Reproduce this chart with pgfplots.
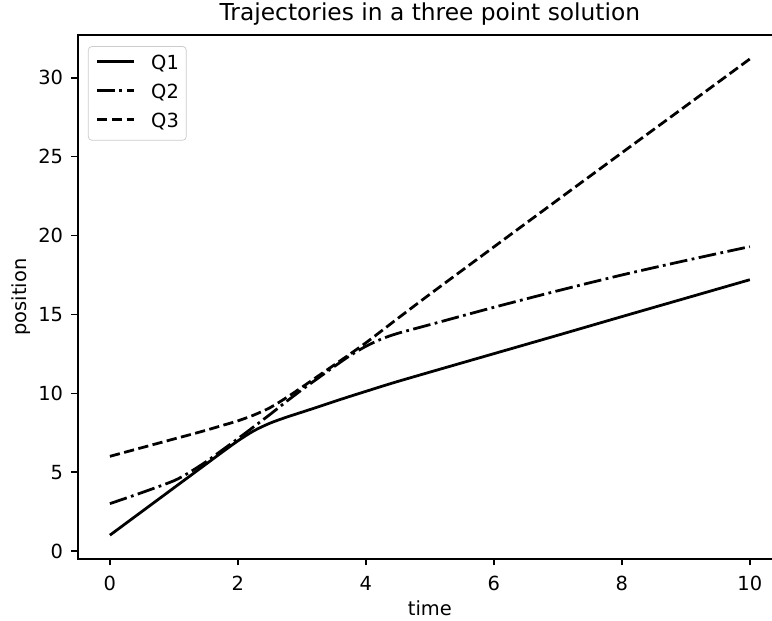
\documentclass[border=0pt]{standalone}
\usepackage{fontspec}
\setmainfont{DejaVu Sans}
\usepackage{pgfplots}
\pgfplotsset{compat=1.18}

% positions
\pgfplotstableread{
t q1 q2 q3
0.00 1.00 3.00 6.00
0.50 2.50 3.70 6.55
1.00 4.00 4.45 7.10
1.25 4.75 5.00 7.37
1.50 5.50 5.65 7.65
1.75 6.25 6.38 7.95
2.00 6.98 7.12 8.25
2.25 7.62 7.88 8.62
2.50 8.10 8.65 9.08
2.75 8.47 9.45 9.70
3.00 8.80 10.22 10.38
3.25 9.13 10.95 11.08
3.50 9.47 11.68 11.78
3.75 9.80 12.38 12.48
4.00 10.12 12.98 13.20
4.25 10.44 13.45 13.97
4.50 10.75 13.80 14.75
5.00 11.34 14.35 16.28
6.00 12.51 15.45 19.28
7.00 13.68 16.50 22.27
8.00 14.86 17.50 25.25
9.00 16.03 18.42 28.22
10.00 17.20 19.30 31.20
}\traj

\begin{document}
\begin{tikzpicture}
\begin{axis}[
    at={(0,0)}, anchor=south west,
    scale only axis, width=380.3pt, height=283pt,
    xmin=-0.5, xmax=10.5, ymin=-0.51, ymax=32.71,
    xtick={0,2,4,6,8,10}, ytick={0,5,10,15,20,25,30},
    tick align=outside, major tick length=3.5pt,
    every tick/.style={black, line width=0.8pt},
    xtick pos=bottom, ytick pos=left,
    axis line style={line width=0.8pt},
    /pgf/number format/assume math mode=true,
    ticklabel style={font=\fontsize{10.5}{12.5}\selectfont},
    xticklabel style={anchor=base, yshift=-13.8pt},
    yticklabel style={anchor=east, xshift=-1pt},
    title={Trajectories in a three point solution},
    every axis title/.style={at={(axis description cs:0.5,1)}, anchor=base,
        yshift=8.1pt, inner sep=0pt, font=\fontsize{12.6}{15}\selectfont},
    xlabel={time},
    ylabel={position},
    every axis x label/.style={at={(axis description cs:0.5,-0.107)}, anchor=base,
        inner sep=0pt, font=\fontsize{10.5}{12.5}\selectfont},
    every axis y label/.style={at={(axis description cs:-0.0726,0.5)}, anchor=base,
        rotate=90, inner sep=0pt, font=\fontsize{10.5}{12.5}\selectfont},
    legend style={at={(0,1)}, anchor=north west, xshift=5.4pt, yshift=-5.9pt,
        draw=black!20, rounded corners=2pt, fill=white, fill opacity=0.8, text opacity=1,
        inner xsep=4pt, inner ysep=4.6pt, row sep=5.6pt,
        font=\fontsize{10.5}{12.5}\selectfont,
        nodes={inner sep=0pt, text height=7.8pt, text depth=2.3pt, anchor=base west}},
    legend cell align=left,
    /tikz/every odd column/.style={column sep=8.5pt},
    /tikz/every even column/.style={column sep=5pt},
    legend image code/.code={\draw[#1] (0pt,4.4pt) -- (20pt,4.4pt);},
    every axis plot/.append style={black, line width=1.5pt, line join=round},
]
\addplot[smooth, tension=0.45] table[x=t, y=q1] {\traj};
\addlegendentry{Q1}
\addplot[smooth, tension=0.45, dash pattern=on 9.6pt off 2.4pt on 1.5pt off 2.4pt] table[x=t, y=q2] {\traj};
\addlegendentry{Q2}
\addplot[smooth, tension=0.45, dash pattern=on 5.55pt off 2.4pt] table[x=t, y=q3] {\traj};
\addlegendentry{Q3}
\end{axis}
\pgfresetboundingbox
\useasboundingbox (-42.1pt,-33.5pt) rectangle (375pt,302pt);
\end{tikzpicture}
\end{document}
